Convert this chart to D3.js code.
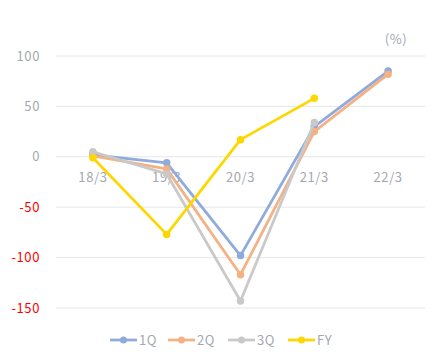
<!DOCTYPE html>
<html><head><meta charset="utf-8">
<script src="https://cdn.jsdelivr.net/npm/d3@7"></script>
<style>body{margin:0;background:#fff}svg{display:block}text{font-family:"Noto Sans CJK JP","Noto Sans",sans-serif;letter-spacing:0.6px}</style>
</head><body><svg id="c" width="436" height="360"></svg>
<script>
const categories = ["18/3","19/3","20/3","21/3","22/3"];
const s1Q = [2, -6, -98, 30, 85];
const s2Q = [1, -12, -117, 25, 82];
const s3Q = [5, -17, -143, 34, null];
const sFY = [-1, -77, 17, 58, null];
const seriesNames = ["1Q","2Q","3Q","FY"];
const seriesColors = ["#8faadc","#f4b183","#c9c9c9","#ffd700"];
const yTicks = [100, 50, 0, -50, -100, -150];

const series = [s1Q, s2Q, s3Q, sFY];
const svg = d3.select("#c");
const x = d3.scaleBand().domain(categories).range([56, 425]);
const y = d3.scaleLinear().domain([-150, 100]).range([308, 56]);

svg.append("g").selectAll("line").data(yTicks).join("line")
  .attr("x1", 56).attr("x2", 425)
  .attr("y1", d => y(d)).attr("y2", d => y(d))
  .attr("stroke", "#e6e6e6").attr("stroke-width", 1);

svg.append("g").selectAll("text").data(yTicks).join("text")
  .attr("x", 40).attr("y", d => y(d)).attr("dy", "0.35em")
  .attr("text-anchor", "end").attr("font-size", 13)
  .attr("fill", d => d < 0 ? "#ff0000" : "#a3a8b0")
  .text(d => d);

svg.append("g").selectAll("text").data(categories).join("text")
  .attr("x", d => x(d) + x.bandwidth()/2).attr("y", y(0) + 21).attr("dy", "0.35em")
  .attr("text-anchor", "middle").attr("font-size", 13).attr("fill", "#a3a8b0")
  .text(d => d);

svg.append("text").attr("x", 396).attr("y", 39).attr("dy", "0.35em")
  .attr("text-anchor", "middle").attr("font-size", 13).attr("fill", "#a3a8b0").text("(%)");

const line = d3.line().defined(d => d.v != null).x(d => x(d.c) + x.bandwidth()/2).y(d => y(d.v));
series.forEach((arr, i) => {
  const pts = arr.map((v, j) => ({c: categories[j], v}));
  const g = svg.append("g");
  g.append("path").datum(pts).attr("d", line).attr("fill", "none")
    .attr("stroke", seriesColors[i]).attr("stroke-width", 2.75).attr("stroke-linejoin", "round");
  g.selectAll("circle").data(pts.filter(d => d.v != null)).join("circle")
    .attr("cx", d => x(d.c) + x.bandwidth()/2).attr("cy", d => y(d.v)).attr("r", 3.75)
    .attr("fill", seriesColors[i]);
});

const legX = [110, 168, 228, 288];
const lg = svg.append("g");
seriesNames.forEach((n, i) => {
  const g = lg.append("g").attr("transform", `translate(${legX[i]},340)`);
  g.append("line").attr("x1", 0).attr("x2", 27).attr("stroke", seriesColors[i]).attr("stroke-width", 2.75);
  g.append("circle").attr("cx", 13.5).attr("r", 3.5).attr("fill", seriesColors[i]);
  g.append("text").attr("x", 29).attr("dy", "0.35em").attr("font-size", 13).attr("fill", "#a3a8b0").text(n);
});
</script></body></html>
